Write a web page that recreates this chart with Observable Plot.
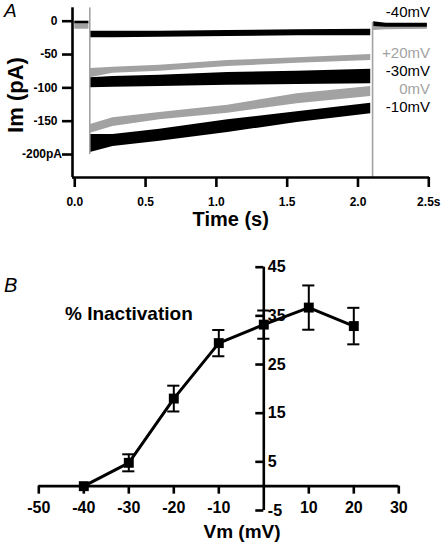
<!DOCTYPE html>
<html>
<head>
<meta charset="utf-8">
<script src="https://cdn.jsdelivr.net/npm/d3@7"></script>
<script src="https://cdn.jsdelivr.net/npm/@observablehq/plot@0.6"></script>
<style>
  html, body { margin: 0; padding: 0; background: #fff; }
  #chart { width: 442px; height: 544px; position: relative; overflow: hidden; }
  #chart svg { display: block; }
</style>
</head>
<body>
<div id="chart"></div>
<script>
// ---------- Panel A data (current traces, read as noise envelopes) ----------
const timeTicks = [0, 0.5, 1, 1.5, 2, 2.5];
const timeTickLabels = ["0.0", "0.5", "1.0", "1.5", "2.0", "2.5s"];
const currentTicks = [0, -50, -100, -150, -200];
const currentTickLabels = ["0", "-50", "-100", "-150", "-200pA"];

const traceNames = ["-40mV", "+20mV", "-30mV", "0mV", "-10mV"];
const pulseT = [0.11, 0.27, 0.6, 1.08, 1.57, 2.09];
const m40Lo = [-25, -25, -24, -23, -22, -22];
const m40Hi = [-15, -15, -15, -14, -13, -12];
const p20Lo = [-85, -78, -75, -68, -63, -59];
const p20Hi = [-71, -69, -66, -59, -55, -50];
const m30Lo = [-100, -99, -98, -96, -95, -94];
const m30Hi = [-85, -83, -81, -77, -75, -72];
const z0Lo = [-168, -158, -148, -138, -124, -113];
const z0Hi = [-155, -145, -137, -126, -109, -98];
const m10Lo = [-197, -188, -180, -167, -152, -139];
const m10Hi = [-170, -170, -162, -148, -136, -123];

const preT = [0, 0.1];
const preBlackLo = [-4, -4], preBlackHi = [0, 0];
const preGrayLo = [-12, -12], preGrayHi = [-4, -4];
const postT = [2.11, 2.2, 2.49];
const postBlackLo = [-8, -9, -9], postBlackHi = [-1, -3, -3];
const postGrayLo = [-14, -13, -12], postGrayHi = [-6, -6, -5];

const transientT = [0.106, 2.103];
const transientTop = [20, -2];
const transientBottom = [-200, -234.5];

// ---------- Panel B data (% inactivation vs Vm) ----------
const vm = [-40, -30, -20, -10, 0, 10, 20];
const inactivation = [0, 4.8, 18.0, 29.4, 33.2, 36.7, 32.9];
const inactSem = [0, 1.75, 2.65, 2.7, 2.9, 4.55, 3.75];
const vmTicks = [-50, -40, -30, -20, -10, 10, 20, 30];
const inactTicks = [45, 35, 25, 15, 5, -5];

// ---------- helpers ----------
const band = (t, lo, hi) => t.map((d, i) => ({t: d, lo: lo[i], hi: hi[i]}));
const BLACK = "#000";
const GRAY = "#a2a2a2";
const FONT = "'Liberation Sans', Arial, Helvetica, sans-serif";

// ---------- Panel A ----------
const xDomA = [-0.016, 2.505];
const yDomA = [-234.5, 20.1];
const fmtX = new Map(timeTicks.map((d, i) => [d, timeTickLabels[i]]));
const fmtY = new Map(currentTicks.map((d, i) => [d, currentTickLabels[i]]));
const lastY = currentTicks[currentTicks.length - 1];

const traceBands = [
  [m40Lo, m40Hi, BLACK],
  [p20Lo, p20Hi, GRAY],
  [m30Lo, m30Hi, BLACK],
  [z0Lo, z0Hi, GRAY],
  [m10Lo, m10Hi, BLACK]
];

const transients = transientT.map((t, i) => ({t, top: transientTop[i], bottom: transientBottom[i]}));

const plotA = Plot.plot({
  width: 442,
  height: 235,
  marginLeft: 72,
  marginRight: 13,
  marginTop: 7.3,
  marginBottom: 58,
  x: {domain: xDomA},
  y: {domain: yDomA},
  style: {fontFamily: FONT, fontWeight: "bold", fontSize: "12px", color: "#000", background: "#fff", overflow: "visible"},
  marks: [
    Plot.areaY(band(preT, preGrayLo, preGrayHi), {x: "t", y1: "lo", y2: "hi", fill: GRAY}),
    Plot.areaY(band(preT, preBlackLo, preBlackHi), {x: "t", y1: "lo", y2: "hi", fill: BLACK}),
    ...traceBands.map(([lo, hi, c]) =>
      Plot.areaY(band(pulseT, lo, hi), {x: "t", y1: "lo", y2: "hi", fill: c})
    ),
    Plot.areaY(band(postT, postGrayLo, postGrayHi), {x: "t", y1: "lo", y2: "hi", fill: GRAY}),
    Plot.areaY(band(postT, postBlackLo, postBlackHi), {x: "t", y1: "lo", y2: "hi", fill: BLACK}),
    Plot.ruleX(transients, {x: "t", y1: "top", y2: "bottom", stroke: GRAY, strokeWidth: 1.6}),
    Plot.ruleX([xDomA[0]], {stroke: BLACK, strokeWidth: 2.6}),
    Plot.ruleY([yDomA[0]], {stroke: BLACK, strokeWidth: 2.6}),
    Plot.axisX({ticks: timeTicks, tickFormat: d => fmtX.get(d), tickSize: 10, tickPadding: 10,
      strokeWidth: 2.6, fontSize: 12, fontWeight: "bold", label: null}),
    Plot.axisY({ticks: currentTicks, tickFormat: d => d === lastY ? "" : fmtY.get(d), tickSize: 10, tickPadding: 5,
      strokeWidth: 2.6, fontSize: 12, fontWeight: "bold", label: null}),
    Plot.text([lastY], {x: xDomA[0], y: d => d, text: d => fmtY.get(d), textAnchor: "end",
      dx: -10.5, fontSize: 12, fontWeight: "bold"})
  ]
});

// ---------- Panel B ----------
const xDomB = [-50, 30];
const yDomB = [-5, 45];
const mB = {left: 38.3, right: 43.7, top: 31.7, bottom: 34};
const wB = 442, hB = 309;
const frameW = wB - mB.left - mB.right;
const frameH = hB - mB.top - mB.bottom;
const x0px = frameW * (0 - xDomB[0]) / (xDomB[1] - xDomB[0]);
const y0px = frameH * (0 - yDomB[0]) / (yDomB[1] - yDomB[0]);

const pts = vm.map((v, i) => ({v, y: inactivation[i], e: inactSem[i]}));
const errPts = pts.filter(d => d.e > 0);

const plotB = Plot.plot({
  width: wB,
  height: hB,
  marginLeft: mB.left,
  marginRight: mB.right,
  marginTop: mB.top,
  marginBottom: mB.bottom,
  x: {domain: xDomB},
  y: {domain: yDomB},
  style: {fontFamily: FONT, fontWeight: "bold", fontSize: "16px", color: "#000", background: "#fff", overflow: "visible"},
  marks: [
    Plot.ruleY([0], {stroke: BLACK, strokeWidth: 2.6}),
    Plot.ruleX([0], {stroke: BLACK, strokeWidth: 2.6}),
    Plot.axisX({ticks: vmTicks, tickFormat: d => String(d), tickSize: 8, tickPadding: 7, dy: -y0px,
      strokeWidth: 2.6, fontSize: 16, fontWeight: "bold", label: null}),
    Plot.axisY({ticks: inactTicks, tickFormat: () => "", tickSize: 8, dx: x0px,
      strokeWidth: 2.6, label: null}),
    Plot.axisY({anchor: "right", ticks: inactTicks, tickFormat: d => String(d), tickSize: 0, tickPadding: 4,
      dx: x0px - frameW, fontSize: 16, fontWeight: "bold", label: null}),
    Plot.ruleX(errPts, {x: "v", y1: d => d.y - d.e, y2: d => d.y + d.e, stroke: BLACK, strokeWidth: 2}),
    Plot.ruleY(errPts, {y: d => d.y + d.e, x1: d => d.v - 1.35, x2: d => d.v + 1.35, stroke: BLACK, strokeWidth: 2}),
    Plot.ruleY(errPts, {y: d => d.y - d.e, x1: d => d.v - 1.35, x2: d => d.v + 1.35, stroke: BLACK, strokeWidth: 2}),
    Plot.line(pts, {x: "v", y: "y", stroke: BLACK, strokeWidth: 3}),
    Plot.dot(pts, {x: "v", y: "y", symbol: "square", fill: BLACK, stroke: "none", r: 5.6})
  ]
});

const root = document.getElementById("chart");
root.appendChild(plotA);
root.appendChild(plotB);

// ---------- labels ----------
const sA = d3.select(plotA);
sA.append("text").attr("x", 4).attr("y", 17).attr("text-anchor", "start").text("A")
  .style("font-family", FONT).style("font-style", "italic").style("font-weight", "normal").style("font-size", "19px");
sA.append("text").attr("transform", "translate(23.4,95) rotate(-90)").attr("text-anchor", "middle").text("Im (pA)")
  .style("font-family", FONT).style("font-weight", "bold").style("font-size", "22px");
sA.append("text").attr("x", 230.7).attr("y", 226).attr("text-anchor", "middle").text("Time (s)")
  .style("font-family", FONT).style("font-weight", "bold").style("font-size", "20px");

const labelY = [17.4, 57.7, 76, 93.7, 112];
const labelColor = [BLACK, GRAY, BLACK, GRAY, BLACK];
traceNames.forEach((n, i) => {
  sA.append("text").attr("x", 430).attr("y", labelY[i]).attr("text-anchor", "end").text(n)
    .style("font-family", FONT).style("font-weight", "normal").style("font-size", "15px").style("fill", labelColor[i]);
});

const sB = d3.select(plotB);
sB.append("text").attr("x", 4).attr("y", 57).attr("text-anchor", "start").text("B")
  .style("font-family", FONT).style("font-style", "italic").style("font-weight", "normal").style("font-size", "20px");
sB.append("text").attr("x", 65).attr("y", 84.5).attr("text-anchor", "start").text("% Inactivation")
  .style("font-family", FONT).style("font-weight", "bold").style("font-size", "19px");
sB.append("text").attr("x", 242).attr("y", 303).attr("text-anchor", "middle").text("Vm (mV)")
  .style("font-family", FONT).style("font-weight", "bold").style("font-size", "19px");
</script>
</body>
</html>
